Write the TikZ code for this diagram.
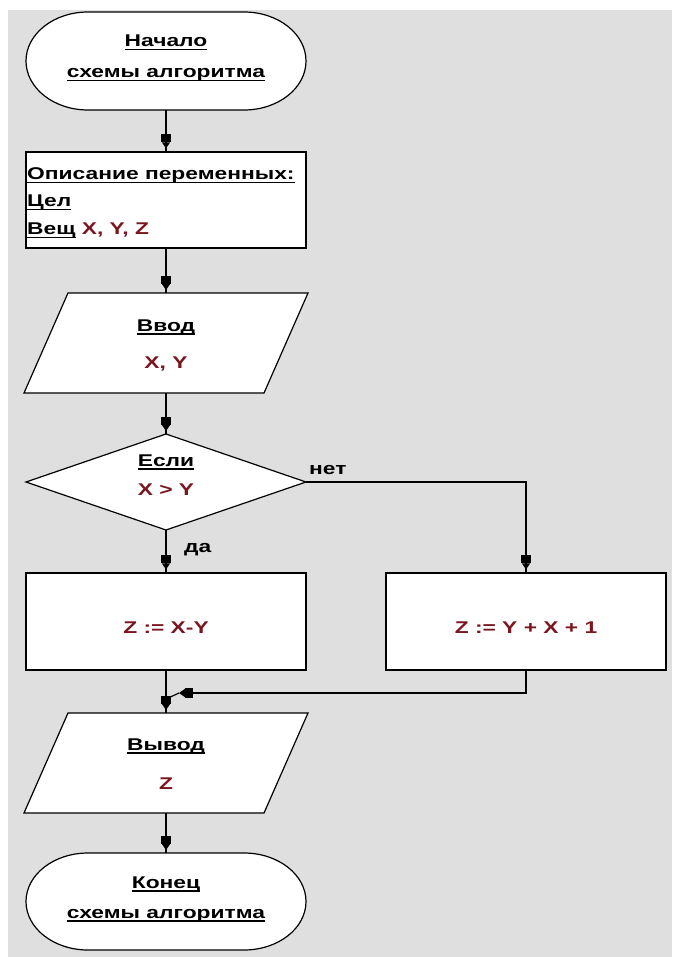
\documentclass[tikz,border=0pt]{standalone}
\usepackage{fontspec}
\setmainfont[FakeStretch=1.34]{Liberation Sans}
\usetikzlibrary{arrows.meta}
\definecolor{bgc}{RGB}{223,223,223}
\definecolor{vred}{RGB}{122,22,32}
\newcommand{\ulin}[1]{\setbox0\hbox{#1}\rlap{\rule[-3.5pt]{\wd0}{1.4pt}}\box0\relax}
\begin{document}
\begin{tikzpicture}[x=1pt,y=-1pt,
  txt/.style={font=\bfseries\fontsize{17}{20}\selectfont, inner sep=0pt, anchor=base},
  redtxt/.style={txt, text=vred},
  shapebox/.style={draw=black, line width=1.2pt, fill=white, inner sep=0pt},
  holder/.style={inner sep=0pt, outer sep=0pt},
  shapeline/.style={draw=black, line width=1.2pt, fill=white},
  conn/.style={line width=1.2pt},
  arr/.style={line width=1.2pt, shorten >=3pt,
    -{Rectangle[length=8pt,width=10pt]Triangle[length=6pt,width=8pt]}}
]
\fill[white] (0,0) rectangle (672,957);
\fill[bgc] (8,10) rectangle (672,957);

% start terminator
\node[holder, minimum width=280pt, minimum height=98pt] (start) at (166,61) {};
\draw[shapeline] ([xshift=62pt]start.north west) -- ([xshift=-62pt]start.north east)
  arc[start angle=90, end angle=-90, x radius=62pt, y radius=49pt]
  -- ([xshift=62pt]start.south west)
  arc[start angle=270, end angle=90, x radius=62pt, y radius=49pt] -- cycle;
\node[txt] (s1) at (166,47) {\ulin{Начало}};
\node[txt] (s2) at (166,78) {\ulin{схемы алгоритма}};

% variable description
\node[shapebox, rectangle, minimum width=280pt, minimum height=96pt] (desc) at (166,200) {};
\node[txt, anchor=base west] (d1) at (27,180) {\ulin{Описание переменных:}};
\node[txt, anchor=base west] (d2) at (27,207) {\ulin{Цел}};
\node[txt, anchor=base west] (d3) at (27,235) {\ulin{Вещ} \textcolor{vred}{X, Y, Z}};

% input
\node[holder, minimum width=240pt, minimum height=100pt] (in) at (166,343) {};
\draw[shapeline] ([xshift=-22pt]in.south west) -- ([xshift=22pt]in.north west)
  -- ([xshift=22pt]in.north east) -- ([xshift=-22pt]in.south east) -- cycle;
\node[txt] (i1) at (166,331) {\ulin{Ввод}};
\node[redtxt] (i2) at (166,368) {X, Y};

% decision
\node[holder, minimum width=280pt, minimum height=96pt] (dec) at (166,482) {};
\draw[shapeline] (dec.north) -- (dec.east) -- (dec.south) -- (dec.west) -- cycle;
\node[txt] (c1) at (166,466) {\ulin{Если}};
\node[redtxt] (c2) at (166,495) {X > Y};

% process boxes
\node[shapebox, rectangle, minimum width=280pt, minimum height=97pt] (L) at (166,621.5) {};
\node[redtxt] (l1) at (166,633) {Z := X-Y};
\node[shapebox, rectangle, minimum width=280pt, minimum height=97pt] (R) at (526,621.5) {};
\node[redtxt] (r1) at (526,633) {Z := Y + X + 1};

% output
\node[holder, minimum width=240pt, minimum height=100pt] (out) at (166,763) {};
\draw[shapeline] ([xshift=-22pt]out.south west) -- ([xshift=22pt]out.north west)
  -- ([xshift=22pt]out.north east) -- ([xshift=-22pt]out.south east) -- cycle;
\node[txt] (o1) at (166,750) {\ulin{Вывод}};
\node[redtxt] (o2) at (166,789) {Z};

% end terminator
\node[holder, minimum width=280pt, minimum height=97pt] (end) at (166,901.5) {};
\draw[shapeline] ([xshift=62pt]end.north west) -- ([xshift=-62pt]end.north east)
  arc[start angle=90, end angle=-90, x radius=62pt, y radius=48.5pt]
  -- ([xshift=62pt]end.south west)
  arc[start angle=270, end angle=90, x radius=62pt, y radius=48.5pt] -- cycle;
\node[txt] (e1) at (166,888) {\ulin{Конец}};
\node[txt] (e2) at (166,918) {\ulin{схемы алгоритма}};

% labels
\node[txt, anchor=base west] (no) at (309,474) {нет};
\node[txt, anchor=base west] (yes) at (184,552) {да};

% connectors
\coordinate (m1) at (179,693);
\coordinate (mj) at (166,699);
\draw[conn] (start.south) -- (desc.north);
\draw[arr]  (start.south) -- (desc.north);
\draw[conn] (desc.south) -- (in.north);
\draw[arr]  (desc.south) -- (in.north);
\draw[conn] (in.south) -- (dec.north);
\draw[arr]  (in.south) -- (dec.north);
\draw[conn] (dec.south) -- (L.north);
\draw[arr]  (dec.south) -- (L.north);
\draw[conn] (dec.east) -| (R.north);
\draw[arr]  (dec.east) -| (R.north);
\draw[conn] (L.south) -- (out.north);
\draw[arr]  (L.south) -- (out.north);
\draw[arr, shorten >=0pt] (R.south) |- (m1);
\draw[conn] (m1) -- (mj);
\draw[conn] (out.south) -- (end.north);
\draw[arr]  (out.south) -- (end.north);
\end{tikzpicture}
\end{document}
